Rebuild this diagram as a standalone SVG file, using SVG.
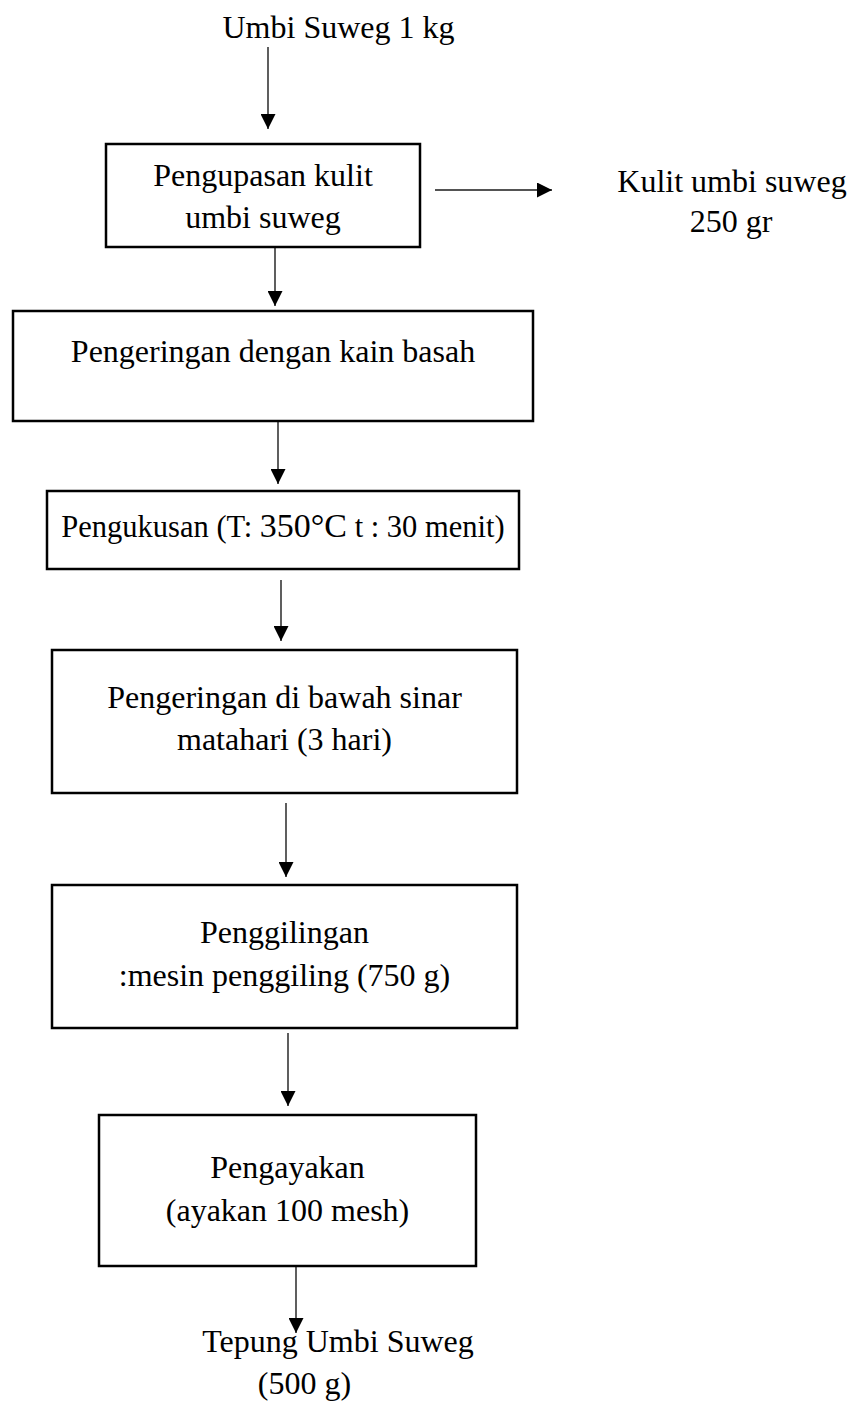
<svg xmlns="http://www.w3.org/2000/svg" width="854" height="1403" viewBox="0 0 854 1403">
<style>
text{font-family:"Liberation Serif","Times New Roman",serif;font-size:32px;fill:#000;text-anchor:middle}
.box{fill:#fff;stroke:#000;stroke-width:2.5}
.conn{stroke:#1a1a1a;stroke-width:1.4;fill:none;marker-end:url(#ah)}
</style>
<defs>
<marker id="ah" viewBox="0 0 15 15" markerWidth="15" markerHeight="15" refX="15" refY="7.5" orient="auto" markerUnits="userSpaceOnUse">
<path d="M0,0 L15,7.5 L0,15 Z" fill="#000"/>
</marker>
</defs>
<rect width="854" height="1403" fill="#fff"/>
<g id="connectors">
<line class="conn" x1="268" y1="47" x2="268" y2="129"/>
<line class="conn" x1="435" y1="190" x2="552" y2="190"/>
<line class="conn" x1="275" y1="247" x2="275" y2="306"/>
<line class="conn" x1="278" y1="421" x2="278" y2="484"/>
<line class="conn" x1="281" y1="580" x2="281" y2="641"/>
<line class="conn" x1="286" y1="803" x2="286" y2="877"/>
<line class="conn" x1="288" y1="1033" x2="288" y2="1106"/>
<line class="conn" x1="296" y1="1260" x2="296" y2="1333"/>
</g>
<g id="start"><text x="338.5" y="38">Umbi Suweg 1 kg</text></g>
<g id="n1">
<rect class="box" x="106" y="144" width="314" height="103"/>
<text x="263" y="186">Pengupasan kulit</text>
<text x="263" y="228">umbi suweg</text>
</g>
<g id="waste">
<text x="732" y="192">Kulit umbi suweg</text>
<text x="731" y="232">250 gr</text>
</g>
<g id="n2">
<rect class="box" x="13" y="311" width="520" height="110"/>
<text x="273" y="362">Pengeringan dengan kain basah</text>
</g>
<g id="n3">
<rect class="box" x="47" y="491" width="472" height="78"/>
<text x="283" y="537" style="font-size:30.5px">Pengukusan (T: <tspan style="font-size:34px">350°C</tspan> t : 30 menit)</text>
</g>
<g id="n4">
<rect class="box" x="52" y="650" width="465" height="143"/>
<text x="284.5" y="708">Pengeringan di bawah sinar</text>
<text x="284.5" y="750">matahari (3 hari)</text>
</g>
<g id="n5">
<rect class="box" x="52" y="885" width="465" height="143"/>
<text x="284.5" y="943">Penggilingan</text>
<text x="284.5" y="986">:mesin penggiling (750 g)</text>
</g>
<g id="n6">
<rect class="box" x="99" y="1115" width="377" height="151"/>
<text x="287.5" y="1178">Pengayakan</text>
<text x="287.5" y="1221">(ayakan 100 mesh)</text>
</g>
<g id="end">
<text x="338" y="1352">Tepung Umbi Suweg</text>
<text x="304.5" y="1394">(500 g)</text>
</g>
</svg>
